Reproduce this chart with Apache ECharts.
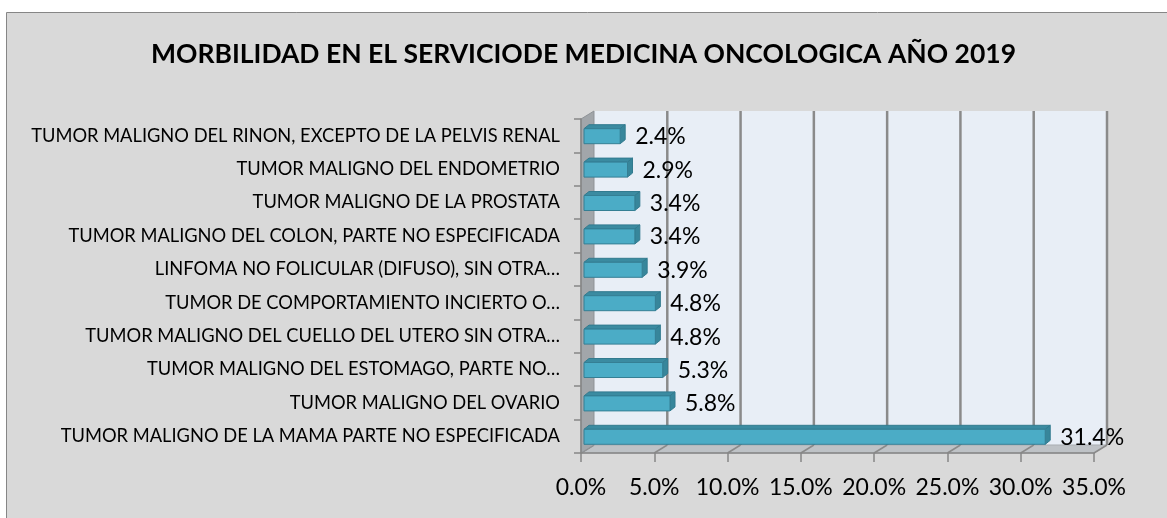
<!DOCTYPE HTML>
<html><head>
<meta charset="utf-8">
<title>Morbilidad oncologica 2019</title>
<script src="https://cdn.jsdelivr.net/npm/echarts@6/dist/echarts.min.js"></script>
<style>
html,body{margin:0;padding:0;background:#fff;}
#main{width:1167px;height:518px;}
</style>
</head>
<body>
<div id="main"></div>
<script type="text/javascript">
// datos de la tabla (de arriba hacia abajo)
var categorias = [
    'TUMOR MALIGNO DEL RINON, EXCEPTO DE LA PELVIS RENAL',
    'TUMOR MALIGNO DEL ENDOMETRIO',
    'TUMOR MALIGNO DE LA PROSTATA',
    'TUMOR MALIGNO DEL COLON, PARTE NO ESPECIFICADA',
    'LINFOMA NO FOLICULAR (DIFUSO), SIN OTRA…',
    'TUMOR DE COMPORTAMIENTO INCIERTO O…',
    'TUMOR MALIGNO DEL CUELLO DEL UTERO SIN OTRA…',
    'TUMOR MALIGNO DEL ESTOMAGO, PARTE NO…',
    'TUMOR MALIGNO DEL OVARIO',
    'TUMOR MALIGNO DE LA MAMA PARTE NO ESPECIFICADA'
];
var porcentajes = [2.4, 2.9, 3.4, 3.4, 3.9, 4.8, 4.8, 5.3, 5.8, 31.4];
var ticksX = [0, 5, 10, 15, 20, 25, 30, 35];

var fuente = 'Lato';
var prof = {dx: 13, dy: 8};   // profundidad de las paredes 3D
var profBarra = {dx: 5, dy: 4};

var myChart = echarts.init(document.getElementById('main'));

// paredes, piso y lineas de division (efecto 3D)
function dibujarParedes(params, api) {
    var cs = params.coordSys;
    var izq = cs.x, arr = cs.y, der = cs.x + cs.width, abajo = cs.y + cs.height;
    var hijos = [];
    hijos.push({type: 'rect', shape: {x: izq + prof.dx, y: arr - prof.dy, width: cs.width, height: cs.height},
        style: {fill: '#e8eef6'}});
    hijos.push({type: 'polygon', shape: {points: [[izq, abajo], [izq + prof.dx, abajo - prof.dy], [der + prof.dx, abajo - prof.dy], [der, abajo]]},
        style: {fill: '#bec2c6', stroke: '#a9adb1', lineWidth: 1}});
    for (var i = 0; i < ticksX.length; i++) {
        var x = api.coord([ticksX[i], 0])[0];
        if (ticksX[i] > 0) {
            hijos.push({type: 'line', shape: {x1: x + prof.dx, y1: arr - prof.dy, x2: x + prof.dx, y2: abajo - prof.dy},
                style: {stroke: '#8a8a8a', lineWidth: 2.5}});
        }
        hijos.push({type: 'line', shape: {x1: x, y1: abajo, x2: x + prof.dx, y2: abajo - prof.dy},
            style: {stroke: '#8a8a8a', lineWidth: 1.5}});
    }
    hijos.push({type: 'polygon', shape: {points: [[izq, arr], [izq + prof.dx, arr - prof.dy], [izq + prof.dx, abajo - prof.dy], [izq, abajo]]},
        style: {fill: '#a2a6aa', stroke: '#8f9397', lineWidth: 1}});
    return {type: 'group', children: hijos};
}

// barras 3D
function dibujarBarra(params, api) {
    var idx = api.value(1);
    var v = api.value(0);
    var p0 = api.coord([0, idx]);
    var p1 = api.coord([v, idx]);
    var x0 = p0[0] + 3, x1 = p1[0] + 4;
    var yTop = p0[1] - 7, yBot = p0[1] + 8;
    var d = profBarra;
    return {type: 'group', children: [
        {type: 'polygon', shape: {points: [[x0, yTop], [x0 + d.dx, yTop - d.dy], [x1 + d.dx, yTop - d.dy], [x1, yTop]]},
            style: {fill: '#3b8ba1', stroke: '#327b8f', lineWidth: 1}},
        {type: 'polygon', shape: {points: [[x1, yTop], [x1 + d.dx, yTop - d.dy], [x1 + d.dx, yBot - d.dy], [x1, yBot]]},
            style: {fill: '#37869b', stroke: '#327b8f', lineWidth: 1}},
        {type: 'rect', shape: {x: x0, y: yTop, width: x1 - x0, height: yBot - yTop},
            style: {fill: '#4bacc6', stroke: '#357f94', lineWidth: 1}},
        {type: 'text', x: p1[0] + 19, y: p0[1] + 1,
            style: {text: v.toFixed(1) + '%', fill: '#000', font: '23px ' + fuente, verticalAlign: 'middle', align: 'left'}}
    ]};
}

var option = {
    backgroundColor: '#ffffff',
    animation: false,
    graphic: [{
        type: 'rect', z: -10, silent: true,
        shape: {x: 6.5, y: 12.5, width: 1170, height: 520},
        style: {fill: '#d9d9d9', stroke: '#868686', lineWidth: 1}
    }],
    title: {
        text: 'MORBILIDAD EN EL SERVICIODE MEDICINA ONCOLOGICA AÑO 2019',
        left: 'center',
        top: 36,
        textStyle: {fontFamily: fuente, fontWeight: 'bold', fontSize: 26.5, color: '#000'}
    },
    grid: {left: 581, right: 73, top: 119, bottom: 65, containLabel: false},
    xAxis: {
        type: 'value', min: 0, max: 35, interval: 5, z: 3,
        axisLine: {show: true, lineStyle: {color: '#868686', width: 1.5}},
        axisTick: {show: true, length: 9, lineStyle: {color: '#868686', width: 1.5}},
        splitLine: {show: false},
        axisLabel: {margin: 23, color: '#000', fontFamily: fuente, fontSize: 23,
            formatter: function (v) { return v.toFixed(1) + '%'; }}
    },
    yAxis: {
        type: 'category', data: categorias, inverse: true, z: 3,
        axisLine: {show: true, lineStyle: {color: '#868686', width: 1.5}},
        axisTick: {show: true, length: 7, lineStyle: {color: '#868686', width: 1.5}},
        axisLabel: {margin: 21, color: '#000', fontFamily: fuente, fontSize: 18.3}
    },
    series: [
        {type: 'custom', name: 'paredes', z: 1, silent: true, clip: false,
            renderItem: dibujarParedes, data: [[0, 0]], encode: {x: 0, y: 1}},
        {type: 'custom', name: 'Porcentaje', z: 4, clip: false,
            renderItem: dibujarBarra,
            data: porcentajes.map(function (v, i) { return [v, i]; }),
            encode: {x: 0, y: 1}}
    ]
};

myChart.setOption(option);
</script>
</body>
</html>
